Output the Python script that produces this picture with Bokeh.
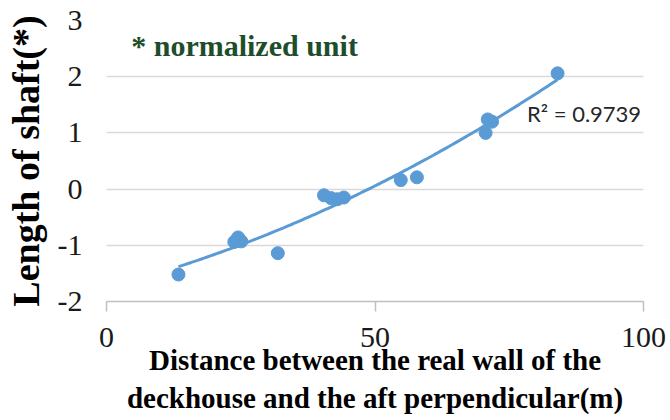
import numpy as np
from bokeh.plotting import figure
from bokeh.models import Range1d, FixedTicker, Label
from bokeh.embed import file_html
from bokeh.resources import INLINE

# Distance between the real wall of the deckhouse and the aft perpendicular (m)
distance = [13.4, 24.5, 23.8, 25.1, 31.9, 40.5, 41.8, 43.0, 44.2,
            54.8, 57.8, 70.6, 71.0, 71.8, 84.0]
# Length of shaft (normalized unit)
shaft_length = [-1.52, -0.86, -0.94, -0.93, -1.14, -0.11, -0.16, -0.18, -0.15,
                0.16, 0.21, 1.00, 1.24, 1.20, 2.06]

x_ticks = [0, 50, 100]
y_ticks = [-2, -1, 0, 1, 2, 3]
r_squared = "0.9739"

BLUE = "#5B9BD5"
SERIF = "Liberation Serif"

p = figure(width=670, height=420, output_backend="svg", toolbar_location=None,
           x_range=Range1d(0, 100), y_range=Range1d(-2, 3),
           min_border_left=106, min_border_right=27,
           min_border_top=20, min_border_bottom=119)
p.outline_line_color = None
p.background_fill_color = "white"
p.border_fill_color = "white"

# second-order polynomial trendline through the measurements
coef = np.polyfit(distance, shaft_length, 2)
xs = np.linspace(min(distance), max(distance), 120)
p.line(xs, np.polyval(coef, xs), line_color=BLUE, line_width=3)

p.scatter(distance, shaft_length, size=13, color=BLUE, line_color=BLUE)

# axes
p.xaxis.ticker = FixedTicker(ticks=x_ticks)
p.yaxis.ticker = FixedTicker(ticks=y_ticks)
p.yaxis.major_label_overrides = {t: str(t) for t in y_ticks}
p.xaxis.major_label_overrides = {t: str(t) for t in x_ticks}
p.xgrid.visible = False
p.ygrid.grid_line_color = "#D9D9D9"
p.ygrid.grid_line_width = 1.5

p.xaxis.axis_line_color = "#BFBFBF"
p.xaxis.axis_line_width = 1.5
p.xaxis.major_tick_line_color = "#BFBFBF"
p.xaxis.major_tick_line_width = 1.5
p.xaxis.major_tick_out = 10
p.xaxis.major_tick_in = 0
p.xaxis.minor_tick_line_color = None
p.xaxis.major_label_standoff = 16

p.yaxis.axis_line_color = None
p.yaxis.major_tick_line_color = None
p.yaxis.major_tick_out = 0
p.yaxis.major_tick_in = 0
p.yaxis.minor_tick_line_color = None
p.yaxis.major_label_standoff = 24

for ax in (p.xaxis[0], p.yaxis[0]):
    ax.major_label_text_font = SERIF
    ax.major_label_text_font_style = "normal"
    ax.major_label_text_font_size = "30px"
    ax.major_label_text_color = "#1a1a1a"
    ax.axis_label_text_font = SERIF
    ax.axis_label_text_font_style = "bold"
    ax.axis_label_text_color = "black"

p.xaxis.axis_label = "Distance between the real wall of the\ndeckhouse and the aft perpendicular(m)"
p.yaxis.axis_label = "Length of shaft(*)"
p.xaxis.axis_label_text_font_size = "29px"
p.yaxis.axis_label_text_font_size = "38px"
p.xaxis.axis_label_standoff = -6
p.yaxis.axis_label_standoff = 8

p.add_layout(Label(x=4.6, y=2.56, text="* normalized unit", text_font=SERIF,
                   text_font_style="bold", text_font_size="30px",
                   text_color="#1E4D2B", text_baseline="middle"))
p.add_layout(Label(x=78.3, y=1.35, text="R² = " + r_squared, text_font="Lato",
                   text_font_size="22px", text_color="#262626",
                   text_baseline="middle"))

open("out.html", "w").write(file_html(p, INLINE))
